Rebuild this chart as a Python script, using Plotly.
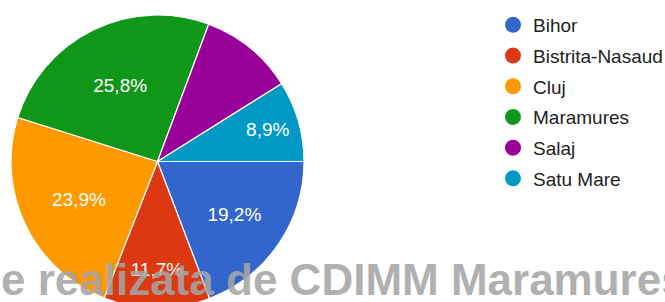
import plotly.graph_objects as go

# ---- data ----
categories = ["Bihor", "Bistrita-Nasaud", "Cluj", "Maramures", "Salaj", "Satu Mare"]
shares = [19.2, 11.7, 23.9, 25.8, 10.4, 8.9]
show_label = [True, True, True, True, False, True]
colors = ["#3366cc", "#dc3912", "#ff9900", "#109618", "#990099", "#0099c6"]
watermark = "e realizata de CDIMM Maramures"

W, H = 665, 310
labels_txt = [(f"{v:.1f}%".replace(".", ",") if s else "") for v, s in zip(shares, show_label)]

fig = go.Figure()
fig.add_trace(go.Pie(
    labels=categories,
    values=shares,
    text=labels_txt,
    textinfo="text",
    textposition="inside",
    insidetextorientation="horizontal",
    textfont=dict(family="Arial, Liberation Sans, sans-serif", size=19, color="white"),
    marker=dict(colors=colors, line=dict(color="white", width=1.2)),
    sort=False,
    direction="clockwise",
    rotation=90,
    showlegend=False,
    domain=dict(x=[11 / W, 304 / W], y=[0, 1]),
    hoverinfo="label+percent",
))

# legend entries with round markers
for i, (c, col) in enumerate(zip(categories, colors)):
    fig.add_trace(go.Scatter(
        x=[None], y=[None], mode="markers", name=c,
        marker=dict(symbol="circle", size=18, color=col),
        legendgroup=f"g{i}", showlegend=True, hoverinfo="skip",
    ))

fig.add_annotation(
    text=watermark, xref="paper", yref="paper",
    x=-1 / W, y=0.008, xanchor="left", yanchor="bottom", showarrow=False,
    font=dict(family="Arial, Liberation Sans, sans-serif", size=44, color="rgba(165,165,165,0.88)", weight="bold"),
)

fig.update_layout(
    width=W, height=H,
    margin=dict(l=0, r=0, t=15, b=2, autoexpand=False),
    paper_bgcolor="white", plot_bgcolor="white",
    xaxis=dict(visible=False), yaxis=dict(visible=False),
    showlegend=True,
    legend=dict(
        x=493 / W, y=1.0307, xanchor="left", yanchor="top",
        font=dict(family="Arial, Liberation Sans, sans-serif", size=19, color="#222222"),
        traceorder="grouped", tracegroupgap=3, itemsizing="trace",
        bgcolor="rgba(0,0,0,0)", maxheight=1,
    ),
)

fig.write_html(
    "out.html",
    config={"displayModeBar": False},
    post_script="document.body.style.margin='0';document.body.style.overflow='hidden';",
)
